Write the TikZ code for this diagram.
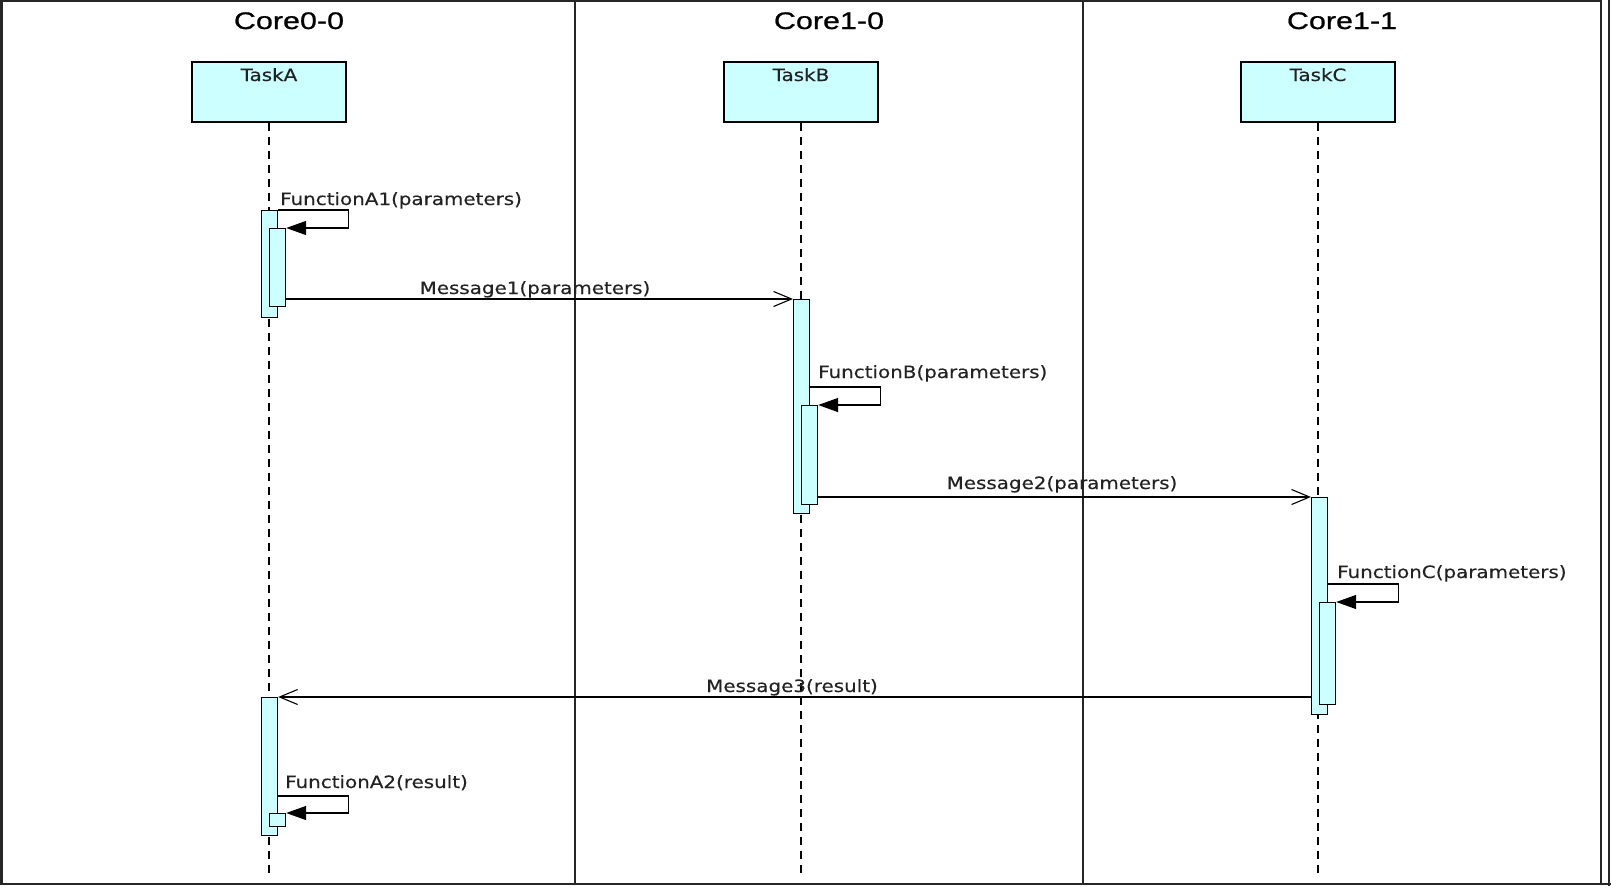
\documentclass[tikz,border=0pt]{standalone}
\usepackage{fontspec}
\newfontfamily\lblfont[FakeStretch=1.17,FakeBold=0.3]{DejaVu Sans}
\newfontfamily\ttlfont[FakeStretch=1.27,FakeBold=0.8]{Liberation Sans}
\usetikzlibrary{arrows.meta}
\definecolor{act}{HTML}{CCFFFF}
\definecolor{txt}{HTML}{222222}
\tikzset{
  frame/.style={line width=2.5pt, draw=black!85},
  lane/.style={line width=1.6pt, draw=black!85},
  ttl/.style={font=\ttlfont\fontsize{24}{28}\selectfont, text=black, anchor=base, inner sep=0pt},
  lbl/.style={font=\lblfont\fontsize{17}{20}\selectfont, text=txt, inner sep=0pt},
  task/.style={draw, line width=1.2pt, fill=act, minimum width=154pt, minimum height=60pt, inner sep=0pt},
  life/.style={line width=1.3pt, dash pattern=on 8pt off 6pt},
  bar/.style={draw, line width=1.2pt, fill=act, minimum width=16pt, inner sep=0pt, anchor=north west},
  self/.style={line width=1.4pt, -{Triangle[length=20pt,width=14pt]}},
  msg/.style={line width=1.1pt, -{Straight Barb[length=18pt,width=15pt,line width=1.1pt]}}
}
\begin{document}
\begin{tikzpicture}[x=1pt,y=-1pt]
\useasboundingbox (0,0) rectangle (1611,886);
\fill[white] (0,0) rectangle (1611,886);
% frame
\draw[frame] (1.5,1) rectangle (1601,884);
\draw[frame] (1609,0) -- (1609,886);
\draw[frame] (1601,884) -- (1611,884);
\draw[lane] (575,0) -- (575,884);
\draw[lane] (1083,0) -- (1083,884);
% titles
\node[ttl] (t0) at (289,29) {Core0-0};
\node[ttl] (t1) at (829,29) {Core1-0};
\node[ttl] (t2) at (1342,29) {Core1-1};
% task boxes
\node[task] (tA) at (269,92) {};
\node[task] (tB) at (801,92) {};
\node[task] (tC) at (1318,92) {};
\node[lbl, anchor=base] (tAl) at (269,81) {TaskA};
\node[lbl, anchor=base] (tBl) at (801,81) {TaskB};
\node[lbl, anchor=base] (tCl) at (1318,81) {TaskC};
% lifelines
\draw[life] (tA.south) -- ++(0,750) coordinate (eA);
\draw[life] (tB.south) -- ++(0,750) coordinate (eB);
\draw[life] (tC.south) -- ++(0,750) coordinate (eC);
% activation bars
\node[bar, minimum height=107pt] (a1o) at (261,210) {};
\node[bar, minimum height=78pt] (a1i) at (269,228) {};
\node[bar, minimum height=214pt] (b1o) at (793,299) {};
\node[bar, minimum height=99pt] (b1i) at (801,405) {};
\node[bar, minimum height=217pt] (c1o) at (1311,497) {};
\node[bar, minimum height=102pt] (c1i) at (1319,602) {};
\node[bar, minimum height=138pt] (a2o) at (261,697) {};
\node[bar, minimum height=13pt] (a2i) at (269,813) {};
% self calls
\draw[self] (a1o.north east) -- ++(70,0) |- (a1i.north east);
\draw[self] (b1o.east |- 0,387) -- ++(70,0) |- (b1i.north east);
\draw[self] (c1o.east |- 0,584) -- ++(70,0) |- (c1i.north east);
\draw[self] (a2o.east |- 0,796) -- ++(70,0) |- (a2i.north east);
\node[lbl, anchor=base west] (fA1) at (280,205) {FunctionA1(parameters)};
\node[lbl, anchor=base west] (fB) at (818,378) {FunctionB(parameters)};
\node[lbl, anchor=base west] (fC) at (1337,578) {FunctionC(parameters)};
\node[lbl, anchor=base west] (fA2) at (285,788) {FunctionA2(result)};
% messages
\draw[msg] (a1i.east |- b1o.north) -- (b1o.north west);
\draw[msg] (b1i.east |- c1o.north) -- (c1o.north west);
\draw[msg] (c1o.west |- a2o.north) -- (a2o.north east);
\node[lbl, anchor=base] (m1) at (535,294) {Message1(parameters)};
\node[lbl, anchor=base] (m2) at (1062,489) {Message2(parameters)};
\node[lbl, anchor=base] (m3) at (792,692) {Message3(result)};
\end{tikzpicture}
\end{document}
